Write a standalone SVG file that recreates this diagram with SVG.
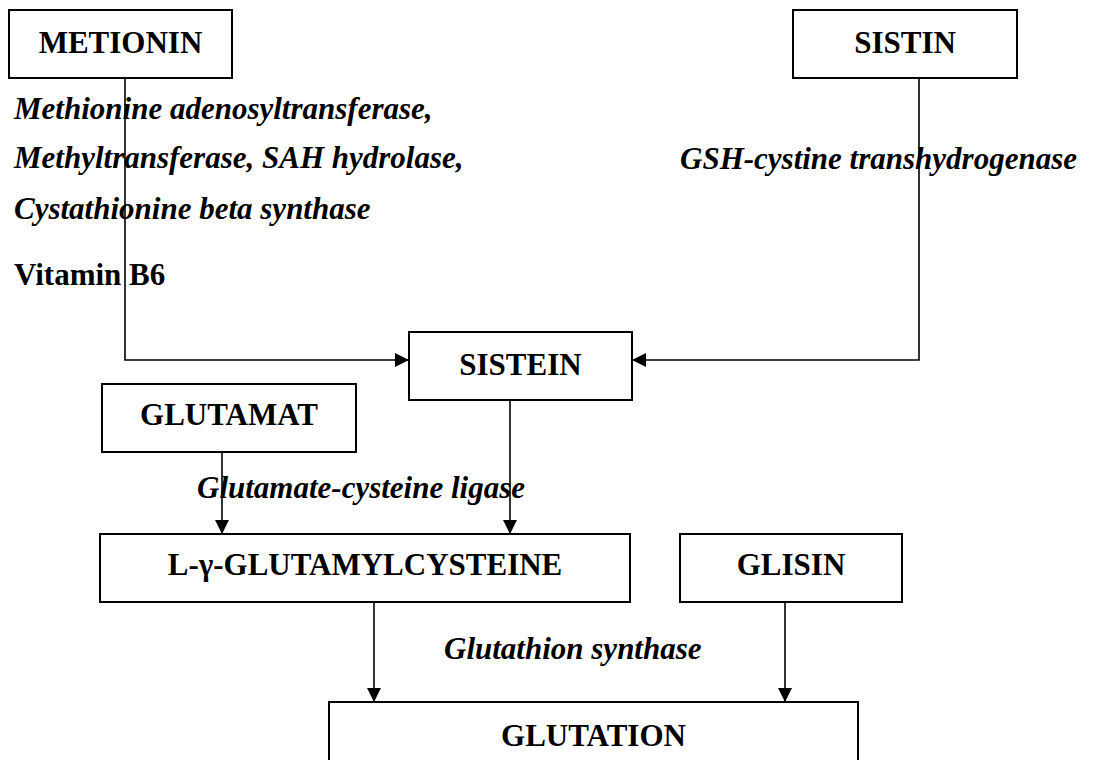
<svg xmlns="http://www.w3.org/2000/svg" width="1098" height="760" viewBox="0 0 1098 760">
  <style>
    .box { fill: #ffffff; stroke: #000000; stroke-width: 2; }
    .label { font-family: "Liberation Serif", "Times New Roman", serif; font-size: 31px; font-weight: bold; fill: #000000; text-anchor: middle; }
    .enz { font-family: "Liberation Serif", "Times New Roman", serif; font-size: 31px; font-weight: bold; font-style: italic; fill: #000000; }
    .cof { font-family: "Liberation Serif", "Times New Roman", serif; font-size: 31px; font-weight: bold; fill: #000000; }
    .link { fill: none; stroke: #000000; stroke-width: 1.6; }
  </style>
  <defs>
    <marker id="arrow" viewBox="0 0 14 14" refX="14" refY="7" markerWidth="14" markerHeight="14" markerUnits="userSpaceOnUse" orient="auto">
      <path d="M0,0 L14,7 L0,14 Z" fill="#000000"/>
    </marker>
  </defs>

  <rect width="1098" height="760" fill="#ffffff"/>

  <!-- enzyme and cofactor labels -->
  <g id="labels">
    <text class="enz" x="14" y="119">Methionine adenosyltransferase,</text>
    <text class="enz" x="14" y="168">Methyltransferase, SAH hydrolase,</text>
    <text class="enz" x="14" y="219">Cystathionine beta synthase</text>
    <text class="cof" x="14" y="285">Vitamin B6</text>
    <text class="enz" x="680" y="169">GSH-cystine transhydrogenase</text>
    <text class="enz" x="197" y="498">Glutamate-cysteine ligase</text>
    <text class="enz" x="444" y="659">Glutathion synthase</text>
  </g>

  <!-- connectors -->
  <g id="connectors">
    <path class="link" d="M125,78 V360 H409" marker-end="url(#arrow)"/>
    <path class="link" d="M919,78 V360 H632" marker-end="url(#arrow)"/>
    <path class="link" d="M222,452 V534" marker-end="url(#arrow)"/>
    <path class="link" d="M510,400 V534" marker-end="url(#arrow)"/>
    <path class="link" d="M374,602 V702" marker-end="url(#arrow)"/>
    <path class="link" d="M785,602 V702" marker-end="url(#arrow)"/>
  </g>

  <g id="metionin">
    <rect class="box" x="9" y="10" width="223" height="68"/>
    <text class="label" x="120.5" y="53">METIONIN</text>
  </g>

  <g id="sistin">
    <rect class="box" x="793" y="10" width="224" height="68"/>
    <text class="label" x="905" y="53">SISTIN</text>
  </g>

  <g id="sistein">
    <rect class="box" x="409" y="332" width="223" height="68"/>
    <text class="label" x="520.5" y="375">SISTEIN</text>
  </g>

  <g id="glutamat">
    <rect class="box" x="102" y="384" width="254" height="68"/>
    <text class="label" x="229" y="425">GLUTAMAT</text>
  </g>

  <g id="glutamylcysteine">
    <rect class="box" x="100" y="534" width="530" height="68"/>
    <text class="label" x="365" y="575">L-γ-GLUTAMYLCYSTEINE</text>
  </g>

  <g id="glisin">
    <rect class="box" x="680" y="534" width="222" height="68"/>
    <text class="label" x="791" y="575">GLISIN</text>
  </g>

  <g id="glutation">
    <rect class="box" x="329" y="702" width="529" height="80"/>
    <text class="label" x="593.5" y="746">GLUTATION</text>
  </g>
</svg>
